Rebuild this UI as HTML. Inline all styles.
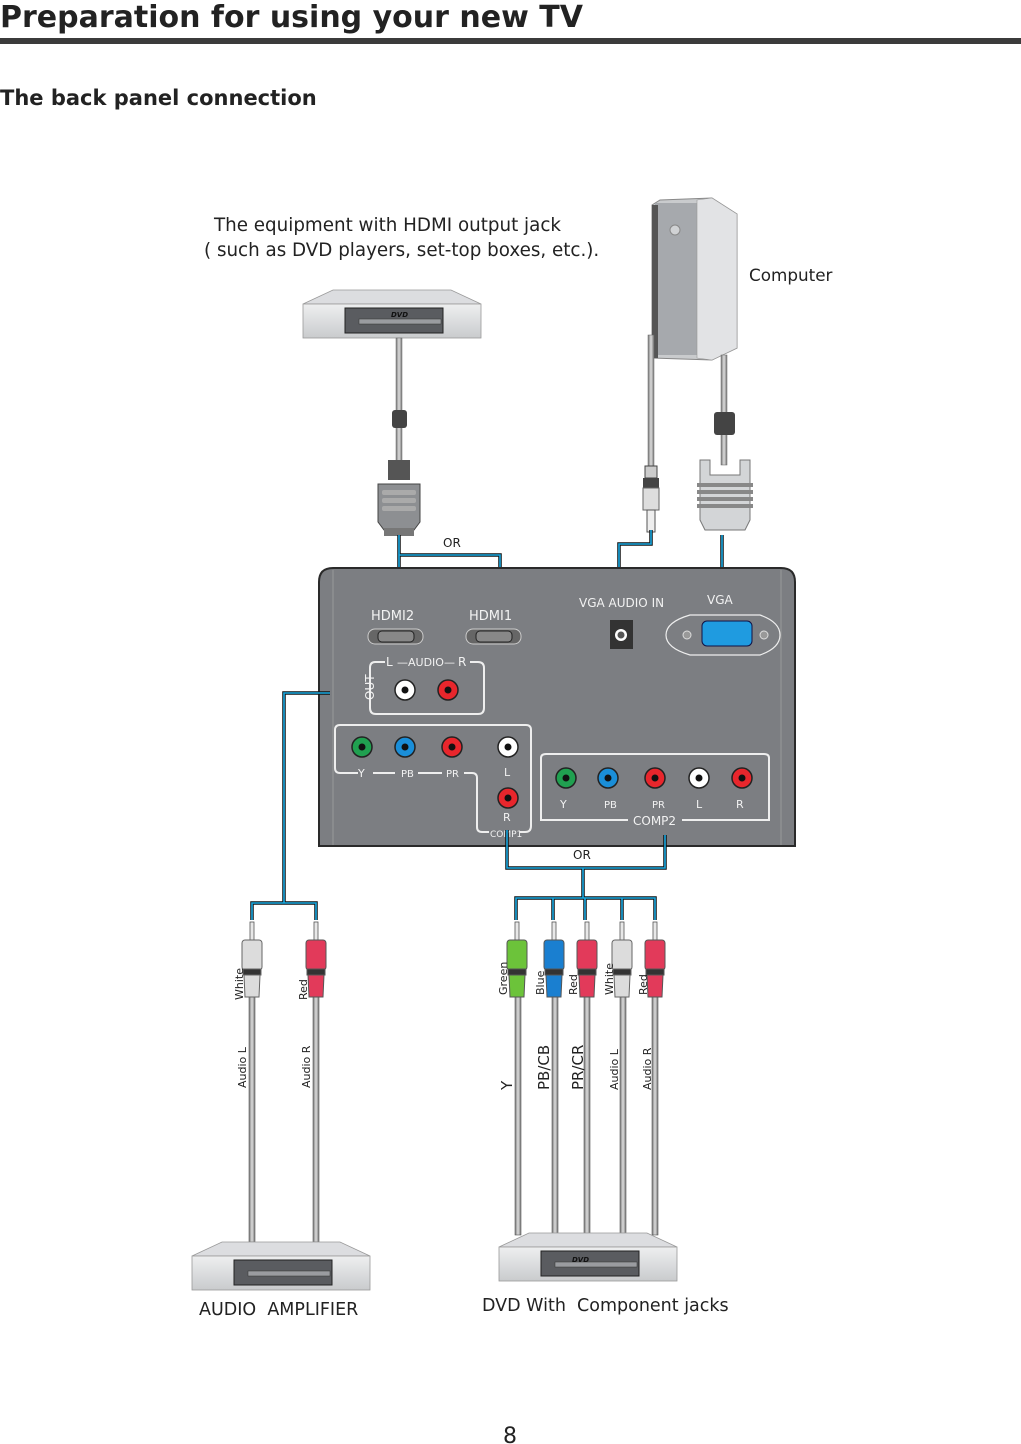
<!DOCTYPE html>
<html><head><meta charset="utf-8"><style>
html,body{margin:0;padding:0;background:#fff}
svg{display:block}
text{font-family:"DejaVu Sans","Liberation Sans",sans-serif}
</style></head><body>
<svg width="1021" height="1444" viewBox="0 0 1021 1444" xmlns="http://www.w3.org/2000/svg">
<defs>
<linearGradient id="gbox" x1="0" y1="0" x2="0" y2="1"><stop offset="0" stop-color="#eeeff0"/><stop offset="1" stop-color="#c9cbcd"/></linearGradient>
<linearGradient id="gcab" x1="0" y1="0" x2="1" y2="0"><stop offset="0" stop-color="#777"/><stop offset=".5" stop-color="#ddd"/><stop offset="1" stop-color="#777"/></linearGradient>
<g id="box">
<path d="M0 14 L30 0 L148 0 L178 14 Z" fill="#dcdde0" stroke="#999" stroke-width="0.8"/>
<rect x="0" y="14" width="178" height="34" fill="url(#gbox)" stroke="#999" stroke-width="0.8"/>
<rect x="42" y="18" width="98" height="25" fill="#5a5c60" stroke="#222"/>
<rect x="56" y="29" width="82" height="5" fill="#9a9ca0" stroke="#333" stroke-width="0.5"/>
</g>
<g id="rca">
<rect x="-2" y="0" width="4" height="20" fill="#e8e8e8" stroke="#555" stroke-width="0.8"/>
<rect x="-10" y="18" width="20" height="30" rx="3"/>
<rect x="-9" y="47" width="18" height="6" fill="#333"/>
<path d="M-8 53 L8 53 L7 75 L-7 75 Z"/>
</g>
</defs>

<text x="0" y="27" font-size="30" font-weight="bold" fill="#222">Preparation for using your new TV</text>
<rect x="0" y="38" width="1021" height="6" fill="#3b3b3b"/>
<text x="0" y="105" font-size="21" font-weight="bold" fill="#222">The back panel connection</text>

<text x="214" y="231" font-size="18.3" fill="#222">The equipment with HDMI output jack</text>
<text x="204" y="256" font-size="18.3" fill="#222">( such as DVD players, set-top boxes, etc.).</text>
<text x="749" y="281" font-size="16.8" fill="#222">Computer</text>

<use href="#box" x="303" y="290"/>
<text x="391" y="317" font-size="7" font-weight="bold" font-style="italic" fill="#111">DVD</text>
<rect x="396" y="338" width="6" height="125" fill="url(#gcab)" stroke="#666" stroke-width="0.5"/>
<rect x="392" y="410" width="15" height="18" rx="3" fill="#444"/>
<rect x="388" y="460" width="22" height="20" fill="#555"/>
<path d="M378 484 L420 484 L420 522 L414 530 L384 530 L378 522Z" fill="#8d8f92" stroke="#444"/>
<rect x="382" y="490" width="34" height="5" rx="2" fill="#aaa"/><rect x="382" y="498" width="34" height="5" rx="2" fill="#aaa"/><rect x="382" y="506" width="34" height="5" rx="2" fill="#aaa"/>
<rect x="384" y="528" width="30" height="8" fill="#777"/>

<path d="M660 200 L712 198 L737 214 L737 348 L712 360 L652 358 L652 205Z" fill="#c9cbcd" stroke="#888"/>
<rect x="655" y="203" width="42" height="152" fill="#a6a9ad"/>
<rect x="652" y="205" width="6" height="153" fill="#555"/>
<path d="M697 200 L712 198 L737 214 L737 348 L712 360 L697 358Z" fill="#e2e3e5" stroke="#999" stroke-width="0.6"/>
<circle cx="675" cy="230" r="5" fill="#d0d2d4" stroke="#888"/>
<rect x="648" y="335" width="6" height="132" fill="url(#gcab)" stroke="#666" stroke-width="0.5"/>
<rect x="645" y="466" width="12" height="12" fill="#ccc" stroke="#444"/>
<rect x="643" y="478" width="16" height="10" fill="#444"/>
<rect x="643" y="488" width="16" height="22" fill="#ddd" stroke="#666"/>
<rect x="647" y="510" width="8" height="22" fill="#eee" stroke="#555"/>
<rect x="721" y="355" width="6" height="110" fill="url(#gcab)" stroke="#666" stroke-width="0.5"/>
<rect x="714" y="412" width="21" height="23" rx="3" fill="#444"/>
<path d="M700 460 L710 460 L710 475 L740 475 L740 460 L750 460 L750 520 L745 530 L705 530 L700 520Z" fill="#d3d5d7" stroke="#777"/>
<rect x="697" y="483" width="56" height="4" fill="#888"/><rect x="697" y="490" width="56" height="4" fill="#888"/><rect x="697" y="497" width="56" height="4" fill="#888"/><rect x="697" y="504" width="56" height="4" fill="#888"/>

<g fill="none" stroke="#111" stroke-width="3.5">
<path d="M399 535 V600 M399 555 H500 V600 M651 530 V544 H619 V590 M722 535 V590"/>
</g>
<g fill="none" stroke="#19a9e1" stroke-width="1.6">
<path d="M399 535 V600 M399 555 H500 V600 M651 530 V544 H619 V590 M722 535 V590"/>
</g>
<text x="443" y="547" font-size="12" fill="#222">OR</text>

<path d="M319 846 L319 582 Q319 568 333 568 L781 568 Q795 568 795 582 L795 846Z" fill="#7c7e82" stroke="#2a2a2a" stroke-width="2"/>
<line x1="333" y1="570" x2="333" y2="845" stroke="#999" stroke-width="1"/>
<line x1="781" y1="570" x2="781" y2="845" stroke="#999" stroke-width="1"/>
<g fill="#f2f2f2" font-size="13">
<text x="371" y="620">HDMI2</text><text x="469" y="620">HDMI1</text>
<text x="579" y="607" font-size="12">VGA AUDIO IN</text><text x="707" y="604" font-size="12">VGA</text>
</g>
<g>
<rect x="368" y="629" width="55" height="15" rx="7" fill="#666" stroke="#ccc"/><rect x="378" y="631" width="36" height="11" rx="4" fill="#888" stroke="#222"/>
<rect x="466" y="629" width="55" height="15" rx="7" fill="#666" stroke="#ccc"/><rect x="476" y="631" width="36" height="11" rx="4" fill="#888" stroke="#222"/>
<rect x="610" y="620" width="23" height="29" fill="#333"/><circle cx="621" cy="635" r="6" fill="#fff"/><circle cx="621" cy="635" r="3.5" fill="#555"/>
<path d="M690 615 L760 615 Q780 622 780 635 Q780 648 760 655 L690 655 Q666 648 666 635 Q666 622 690 615Z" fill="none" stroke="#eee" stroke-width="1.2"/>
<rect x="702" y="621" width="50" height="25" rx="5" fill="#1f9be0" stroke="#114"/>
<circle cx="687" cy="635" r="4" fill="#999" stroke="#ddd"/><circle cx="764" cy="635" r="4" fill="#999" stroke="#ddd"/>
</g>
<g fill="none" stroke="#eee" stroke-width="2">
<path d="M385 662 H375 Q370 662 370 668 V708 Q370 714 376 714 H478 Q484 714 484 708 V668 Q484 662 478 662 H470"/>
<path d="M358 773 H340 Q335 773 335 768 V730 Q335 725 340 725 H526 Q531 725 531 730 V826 Q531 832 525 832 H520 M489 832 H482 Q477 832 477 827 V778 Q477 773 472 773 H464 M373 773 H395 M418 773 H442"/>
<path d="M628 820 H541 V758 Q541 754 546 754 H764 Q769 754 769 758 V820 H682"/>
</g>
<g fill="#f2f2f2" font-size="12">
<text x="386" y="666">L</text><text x="397" y="666" font-size="11">—AUDIO—</text><text x="458" y="666">R</text>
<text x="374" y="700" transform="rotate(-90 374 700)" font-size="12">OUT</text>
<text x="358" y="777" font-size="11">Y</text><text x="401" y="777" font-size="10">PB</text><text x="446" y="777" font-size="10">PR</text><text x="504" y="776" font-size="11">L</text>
<text x="503" y="821" font-size="11">R</text><text x="490" y="837" font-size="9">COMP1</text>
<text x="560" y="808" font-size="11">Y</text><text x="604" y="808" font-size="10">PB</text><text x="652" y="808" font-size="10">PR</text><text x="696" y="808" font-size="11">L</text><text x="736" y="808" font-size="11">R</text>
<text x="633" y="825">COMP2</text>
</g>
<g stroke="#222" stroke-width="1.5">
<circle cx="405" cy="690" r="10" fill="#fff"/><circle cx="448" cy="690" r="10" fill="#e8262c"/>
<circle cx="362" cy="747" r="10" fill="#20a050"/><circle cx="405" cy="747" r="10" fill="#1a8ed8"/><circle cx="452" cy="747" r="10" fill="#e8262c"/><circle cx="508" cy="747" r="10" fill="#fff"/>
<circle cx="508" cy="798" r="10" fill="#e8262c"/>
<circle cx="566" cy="778" r="10" fill="#20a050"/><circle cx="608" cy="778" r="10" fill="#1a8ed8"/><circle cx="655" cy="778" r="10" fill="#e8262c"/><circle cx="699" cy="778" r="10" fill="#fff"/><circle cx="742" cy="778" r="10" fill="#e8262c"/>
</g>
<g fill="#111">
<circle cx="405" cy="690" r="3.5"/><circle cx="448" cy="690" r="3.5"/><circle cx="362" cy="747" r="3.5"/><circle cx="405" cy="747" r="3.5"/><circle cx="452" cy="747" r="3.5"/><circle cx="508" cy="747" r="3.5"/><circle cx="508" cy="798" r="3.5"/>
<circle cx="566" cy="778" r="3.5"/><circle cx="608" cy="778" r="3.5"/><circle cx="655" cy="778" r="3.5"/><circle cx="699" cy="778" r="3.5"/><circle cx="742" cy="778" r="3.5"/>
</g>

<g fill="none" stroke="#111" stroke-width="3.5">
<path d="M330 693 H284 V903 M252 920 V903 H316 V920 M507 830 V868 H665 V835 M583 868 V898 M516 920 V898 H655 V920 M553 898 V920 M585 898 V920 M622 898 V920"/>
</g>
<g fill="none" stroke="#19a9e1" stroke-width="1.6">
<path d="M330 693 H284 V903 M252 920 V903 H316 V920 M507 830 V868 H665 V835 M583 868 V898 M516 920 V898 H655 V920 M553 898 V920 M585 898 V920 M622 898 V920"/>
</g>
<text x="573" y="859" font-size="12" fill="#222">OR</text>

<g fill="url(#gcab)" stroke="#555" stroke-width="0.6">
<rect x="249" y="990" width="6" height="252"/><rect x="313" y="990" width="6" height="252"/>
<rect x="515" y="990" width="6" height="245"/><rect x="552" y="990" width="6" height="245"/><rect x="584" y="990" width="6" height="245"/><rect x="620" y="990" width="6" height="245"/><rect x="652" y="990" width="6" height="245"/>
</g>
<use href="#rca" x="252" y="922" fill="#dcdcdc" stroke="#666"/>
<use href="#rca" x="316" y="922" fill="#e23a5a" stroke="#555"/>
<use href="#rca" x="517" y="922" fill="#6cc33a" stroke="#555"/>
<use href="#rca" x="554" y="922" fill="#1a7fd0" stroke="#555"/>
<use href="#rca" x="587" y="922" fill="#e23a5a" stroke="#555"/>
<use href="#rca" x="622" y="922" fill="#dcdcdc" stroke="#666"/>
<use href="#rca" x="655" y="922" fill="#e23a5a" stroke="#555"/>

<g fill="#222" font-size="11">
<text transform="translate(243 1000) rotate(-90)">White</text>
<text transform="translate(307 1000) rotate(-90)">Red</text>
<text transform="translate(507 995) rotate(-90)">Green</text>
<text transform="translate(544 995) rotate(-90)">Blue</text>
<text transform="translate(577 995) rotate(-90)">Red</text>
<text transform="translate(613 995) rotate(-90)">White</text>
<text transform="translate(647 995) rotate(-90)">Red</text>
<text transform="translate(246 1088) rotate(-90)">Audio L</text>
<text transform="translate(310 1088) rotate(-90)">Audio R</text>
<text transform="translate(512 1090) rotate(-90)" font-size="15">Y</text>
<text transform="translate(549 1090) rotate(-90)" font-size="15">PB/CB</text>
<text transform="translate(583 1090) rotate(-90)" font-size="15">PR/CR</text>
<text transform="translate(618 1090) rotate(-90)">Audio L</text>
<text transform="translate(651 1090) rotate(-90)">Audio R</text>
</g>

<use href="#box" x="192" y="1242"/>
<use href="#box" x="499" y="1233"/>
<text x="572" y="1262" font-size="7" font-weight="bold" font-style="italic" fill="#111">DVD</text>
<text x="199" y="1315" font-size="17.5" fill="#222">AUDIO&#160; AMPLIFIER</text>
<text x="482" y="1311" font-size="17.5" fill="#222">DVD With&#160; Component jacks</text>
<text x="503" y="1443" font-size="22" fill="#222">8</text>
</svg>
</body></html>
